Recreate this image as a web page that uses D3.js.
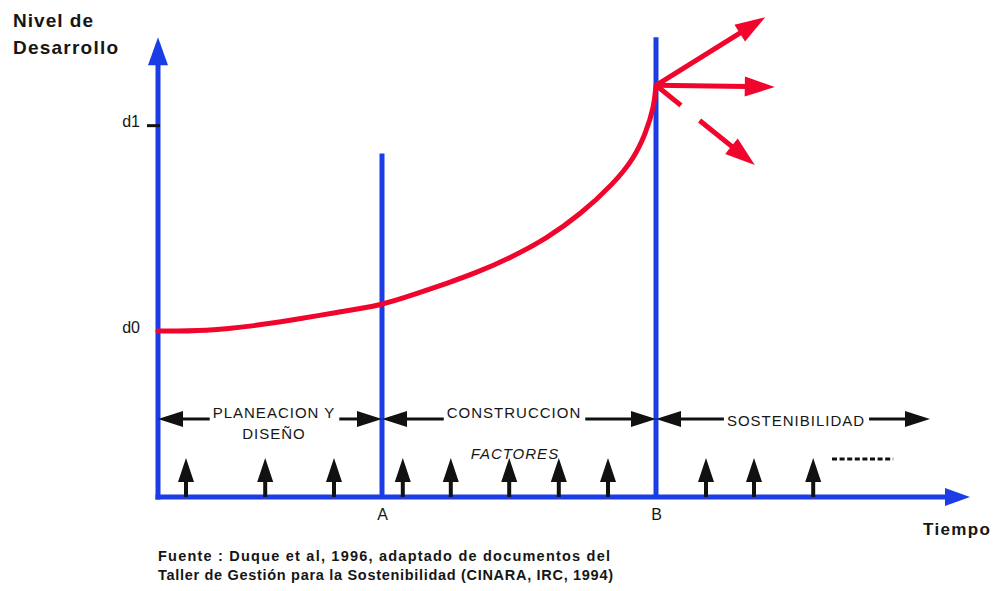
<!DOCTYPE html>
<html><head><meta charset="utf-8">
<script src="https://cdn.jsdelivr.net/npm/d3@7"></script>
<style>
body{margin:0;background:#fff}
svg{display:block}
text{font-family:"Liberation Sans",Arial,sans-serif;fill:#161616}
</style>
</head><body>
<svg id="c" width="999" height="591"></svg>
<script>
// ---------------- DATA ----------------
const curveTime  = [0, 6, 12, 18, 22, 28, 32, 36, 40, 44, 48.5, 52.75, 57, 59.5, 61, 62, 62.25];
const curveLevel = [2.0, 2.0, 2.06, 2.15, 2.22, 2.31, 2.44, 2.57, 2.71, 2.88, 3.11, 3.40, 3.78, 4.08, 4.39, 4.70, 4.96];

const levelTickValues = [2.0, 4.48];
const levelTickLabels = ["d0", "d1"];

const milestoneNames = ["A", "B"];
const milestoneTimes = [28, 62.25];
const milestoneTops  = [4.14, 5.54];

const phaseNames  = [["PLANEACION Y", "DISEÑO"], ["CONSTRUCCION"], ["SOSTENIBILIDAD"]];
const phaseStarts = [0, 28, 62.25];
const phaseEnds   = [28, 62.25, 96.5];
const phaseLevel  = 0.94;

const factorTimes = [3.5, 13.4, 22, 30.6, 36.6, 43.9, 50.1, 56.25, 68.5, 74.5, 81.9];
const factorLevel = 0.47;
const factorLabel = "FACTORES";
const moreFactors = [84.25, 91.9];

const outcomeTimes  = [75.9, 77.1, 74.6];
const outcomeLevels = [5.78, 4.94, 4.0];
const outcomeDashed = [false, false, true];

const axisMaxTime = 101.5, axisMaxLevel = 5.54;
const yTitle = ["Nivel de", "Desarrollo"];
const xTitle = "Tiempo";
const source = ["Fuente :  Duque et al, 1996, adaptado de documentos del",
                "Taller de Gestión para la Sostenibilidad (CINARA, IRC, 1994)"];

// ---------------- DRAW ----------------
const BLUE = "#1b3de6", RED = "#f0052c", INK = "#111";
const svg = d3.select("#c");
const x = d3.scaleLinear().domain([0, 100]).range([158, 958]);
const y = d3.scaleLinear().domain([0, 5]).range([497, 82]);

function arrow(g, x0, y0, x1, y1, o) {
  const dx = x1 - x0, dy = y1 - y0, d = Math.hypot(dx, dy), ux = dx / d, uy = dy / d;
  const bx = x1 - ux * o.len, by = y1 - uy * o.len;
  g.append("line").attr("x1", x0).attr("y1", y0).attr("x2", bx + ux * 2).attr("y2", by + uy * 2)
    .attr("stroke", o.color).attr("stroke-width", o.width).attr("stroke-dasharray", o.dash || null);
  g.append("path").attr("d", `M${x1},${y1}L${bx - uy * o.half},${by + ux * o.half}L${bx + uy * o.half},${by - ux * o.half}Z`)
    .attr("fill", o.color);
}

// titles
svg.append("text").attr("x", 13).attr("y", 27).attr("font-size", 19).attr("font-weight", "bold")
  .attr("textLength", 80).attr("lengthAdjust", "spacing").text(yTitle[0]);
svg.append("text").attr("x", 13).attr("y", 54).attr("font-size", 19).attr("font-weight", "bold")
  .attr("textLength", 105).attr("lengthAdjust", "spacing").text(yTitle[1]);
svg.append("text").attr("x", 923).attr("y", 535).attr("font-size", 17).attr("font-weight", "bold")
  .attr("textLength", 67).attr("lengthAdjust", "spacing").text(xTitle);

// milestones (vertical blue lines)
const gm = svg.append("g");
milestoneTimes.forEach((t, i) => {
  gm.append("line").attr("x1", x(t)).attr("x2", x(t)).attr("y1", y(0)).attr("y2", y(milestoneTops[i]))
    .attr("stroke", BLUE).attr("stroke-width", 5);
});

// main axes
const ga = svg.append("g");
arrow(ga, x(0), y(0) + 2.5, x(0), y(axisMaxLevel), {len: 28, half: 10, color: BLUE, width: 5});
arrow(ga, x(0) - 2.5, y(0), x(axisMaxTime), y(0), {len: 25, half: 9, color: BLUE, width: 5});

// level ticks via d3 axis
const gl = svg.append("g").attr("transform", `translate(${x(0) + 2},0)`)
  .call(d3.axisLeft(y).tickValues(levelTickValues).tickFormat((d, i) => levelTickLabels[i]).tickSize(13).tickPadding(7));
gl.select(".domain").remove();
gl.attr("font-family", null);
gl.selectAll(".tick line").attr("stroke", INK).attr("stroke-width", 3).attr("opacity", (d, i) => i === 0 ? 0 : 1);
gl.selectAll(".tick text").attr("font-size", 16).attr("dy", "0.1em").attr("fill", "#222");

// milestone labels via d3 axis
const gb = svg.append("g").attr("transform", `translate(0,${y(0)})`)
  .call(d3.axisBottom(x).tickValues(milestoneTimes).tickFormat((d, i) => milestoneNames[i]).tickSize(0).tickPadding(12));
gb.select(".domain").remove();
gb.attr("font-family", null);
gb.selectAll(".tick text").attr("font-size", 16).attr("fill", "#222");

// curve
const pts = curveTime.map((t, i) => [x(t), y(curveLevel[i])]);
svg.append("path").attr("d", d3.line().curve(d3.curveBasis)(pts))
  .attr("fill", "none").attr("stroke", RED).attr("stroke-width", 5).attr("stroke-linecap", "round");

// outcome arrows
const gr = svg.append("g");
const o = pts[pts.length - 1];
outcomeTimes.forEach((t, i) => {
  arrow(gr, o[0], o[1], x(t), y(outcomeLevels[i]),
    {len: 30, half: 10, color: RED, width: 5, dash: outcomeDashed[i] ? "32,24,80" : null});
});

// phases
const gp = svg.append("g");
const rowY = y(phaseLevel);
const textDy = [-1, -1, 7];
const textShift = [4, -5, 3];
phaseNames.forEach((names, i) => {
  const x0 = x(phaseStarts[i]), x1 = x(phaseEnds[i]), cx = (x0 + x1) / 2 + textShift[i];
  const t = gp.append("text").attr("x", cx).attr("y", rowY + textDy[i]).attr("text-anchor", "middle")
    .attr("font-size", 15).attr("letter-spacing", 1).text(names[0]);
  const bb = t.node().getBBox();
  if (names[1]) {
    gp.append("text").attr("x", cx).attr("y", rowY + 20).attr("text-anchor", "middle")
      .attr("font-size", 15).attr("letter-spacing", 1).text(names[1]);
  }
  arrow(gp, bb.x - 3, rowY, x0, rowY, {len: 25, half: 8, color: INK, width: 3});
  arrow(gp, bb.x + bb.width + 4, rowY, x1, rowY, {len: 25, half: 8, color: INK, width: 3});
});

// factors
const gf = svg.append("g");
factorTimes.forEach(t => {
  arrow(gf, x(t), y(0), x(t), y(factorLevel), {len: 24, half: 8, color: INK, width: 4});
});
gf.append("text").attr("x", 515).attr("y", 459).attr("text-anchor", "middle").attr("font-size", 15)
  .attr("font-style", "italic").attr("letter-spacing", 1).text(factorLabel);
gf.append("line").attr("x1", x(moreFactors[0])).attr("x2", x(moreFactors[1]))
  .attr("y1", y(factorLevel) + 1).attr("y2", y(factorLevel) + 1)
  .attr("stroke", INK).attr("stroke-width", 3).attr("stroke-dasharray", "5,2.6");

// source
svg.append("text").attr("x", 158).attr("y", 561).attr("font-size", 14.5).attr("font-weight", "bold")
  .attr("textLength", 452).attr("lengthAdjust", "spacing").text(source[0]);
svg.append("text").attr("x", 158).attr("y", 580).attr("font-size", 14.5).attr("font-weight", "bold")
  .attr("textLength", 455).attr("lengthAdjust", "spacing").text(source[1]);
</script>
</body></html>
